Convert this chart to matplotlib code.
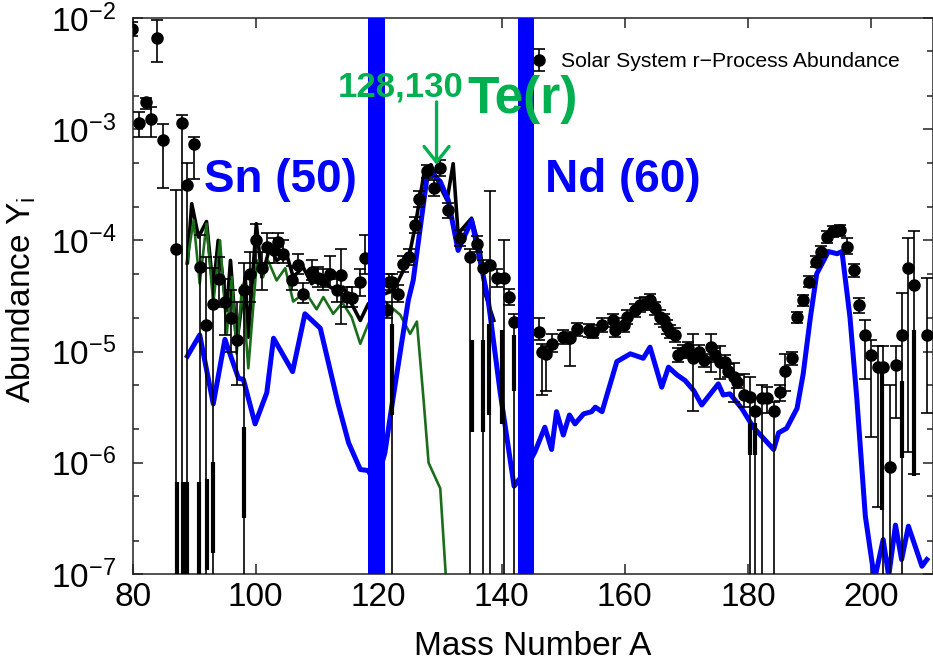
import numpy as np
import matplotlib
matplotlib.use("Agg")
import matplotlib.pyplot as plt
from matplotlib.ticker import LogLocator, LogFormatterMathtext, NullFormatter

# --- data (log10 of abundance) ---
# solar system r-process abundances: mass number, value, lower / upper bound
sol_A = [79.9, 81.0, 82.1, 83.0, 84.0, 85.0, 87.0, 88.0, 88.9, 90.0,
         90.9, 92.0, 93.0, 94.0, 95.0, 96.0, 97.0, 98.1, 99.0, 100.0,
         101.0, 101.8, 102.9, 103.7, 104.5, 105.9, 106.9, 107.7, 109.1, 110.2,
         111.0, 112.0, 113.2, 113.8, 114.8, 115.6, 117.0, 117.8,
         121.3, 121.6, 122.1, 123.2, 124.0, 125.0, 125.9, 126.6, 127.8, 129.0,
         130.0, 131.3, 133.2, 134.8, 135.9, 137.0, 138.1, 139.2, 140.3, 141.1,
         142.0,
         146.0, 146.5, 147.2, 148.1, 150.0, 151.1, 152.2, 154.1, 154.9, 156.3,
         158.1, 158.4, 159.8, 160.3, 161.7, 162.5, 163.3, 164.1, 164.9, 165.8,
         166.3, 166.8, 167.4, 168.2, 168.7, 169.5, 170.3, 171.1, 172.0, 172.8,
         174.0, 174.7, 175.4, 176.3, 176.8, 177.7, 178.2, 179.3, 180.4, 181.2,
         182.3, 183.1, 184.3, 185.3, 186.1, 187.2, 188.0, 189.0, 189.9, 191.1,
         191.9, 192.8, 193.9, 195.0, 196.1, 197.2, 198.0, 199.1, 200.0, 201.1,
         202.0, 203.1, 204.1, 205.1, 206.1, 207.0, 209.1]
sol_Y = [-2.10, -2.94, -2.76, -2.91, -2.18, -3.10, -4.08, -2.94, -3.50, -3.13,
         -4.24, -4.76, -4.57, -4.35, -4.55, -4.70, -4.90, -4.45, -4.30, -4.00,
         -4.25, -4.06, -4.09, -4.01, -4.12, -4.36, -4.22, -4.48, -4.28, -4.34,
         -4.36, -4.30, -4.45, -4.31, -4.51, -4.52, -4.37, -4.16,
         -4.63, -4.37, -4.37, -4.48, -4.21, -4.15, -3.86, -3.63, -3.38, -3.53,
         -3.35, -3.73, -3.98, -4.15, -4.03, -4.25, -4.22, -4.34, -4.34, -4.51,
         -4.73,
         -4.82, -5.00, -5.02, -4.93, -4.87, -4.88, -4.80, -4.81, -4.82, -4.76,
         -4.72, -4.81, -4.76, -4.69, -4.63, -4.58, -4.57, -4.54, -4.61, -4.69,
         -4.72, -4.78, -4.82, -4.85, -5.03, -5.00, -4.97, -5.06, -5.00, -5.08,
         -4.96, -5.03, -5.09, -5.09, -5.17, -5.23, -5.27, -5.39, -5.41, -5.53,
         -5.42, -5.42, -5.53, -5.36, -5.17, -5.06, -4.69, -4.54, -4.37, -4.19,
         -4.10, -3.97, -3.92, -3.91, -4.06, -4.27, -4.58, -4.85, -5.03, -5.14,
         -5.14, -6.04, -5.12, -4.85, -4.25, -4.40, -4.85]
sol_lo = [-2.16, -3.07, -2.82, -3.07, -2.40, -3.53, -8, -8, -8, -3.45,
          -8, -8, -8, -4.60, -4.85, -5.00, -5.30, -8, -4.55, -4.20,
          -4.45, -4.20, -4.20, -4.10, -4.20, -4.45, -4.30, -4.56, -4.36, -4.42,
          -4.45, -4.42, -4.55, -4.75, -4.60, -4.60, -4.50, -4.30,
          -4.70, -4.45, -8, -4.55, -4.28, -4.22, -3.93, -3.70, -3.44, -3.60,
          -3.42, -3.80, -4.05, -8, -4.10, -8, -8, -4.42, -8, -4.58,
          -8,
          -4.90, -5.39, -5.35, -5.00, -4.93, -5.13, -4.86, -4.87, -4.88, -4.82,
          -4.78, -4.87, -4.82, -4.75, -4.69, -4.64, -4.63, -4.60, -4.67, -4.75,
          -4.78, -4.84, -4.88, -4.91, -5.09, -5.06, -5.03, -5.53, -5.06, -5.14,
          -5.18, -5.09, -5.25, -5.15, -5.23, -5.45, -5.33, -5.50, -8, -8,
          -8, -5.55, -8, -5.44, -5.35, -5.12, -4.74, -4.59, -4.42, -4.24,
          -4.15, -4.02, -3.97, -3.96, -4.12, -4.33, -4.65, -5.25, -5.77, -6.40,
          -8, -8, -5.60, -8, -5.90, -6.10, -5.55]
sol_hi = [-2.04, -2.85, -2.72, -2.80, -2.02, -2.95, -3.55, -2.87, -3.30, -3.07,
          -3.95, -4.15, -4.25, -4.15, -4.35, -4.45, -4.55, -4.20, -4.10, -3.85,
          -4.10, -3.93, -3.98, -3.93, -4.00, -4.23, -4.12, -4.38, -4.18, -4.24,
          -4.26, -4.14, -4.35, -4.08, -4.42, -4.42, -4.26, -3.95,
          -4.55, -4.30, -4.30, -4.40, -4.14, -4.08, -3.79, -3.56, -3.32, -3.46,
          -3.28, -3.66, -3.91, -4.08, -3.96, -4.18, -3.56, -4.26, -4.00, -4.44,
          -4.66,
          -4.70, -4.93, -4.95, -4.84, -4.81, -4.82, -4.74, -4.75, -4.76, -4.70,
          -4.66, -4.75, -4.70, -4.63, -4.57, -4.52, -4.51, -4.48, -4.55, -4.63,
          -4.66, -4.72, -4.76, -4.79, -4.97, -4.94, -4.91, -4.84, -4.94, -5.02,
          -4.84, -4.97, -4.95, -5.03, -5.11, -5.10, -5.21, -5.20, -5.23, -5.42,
          -5.30, -5.32, -5.45, -5.30, -5.02, -5.00, -4.64, -4.49, -4.32, -4.14,
          -4.05, -3.92, -3.87, -3.86, -3.98, -4.21, -4.52, -4.72, -4.90, -4.95,
          -4.95, -5.30, -4.95, -4.47, -3.98, -3.92, -4.34]

# heavier overlapping error segments
thick_A = [87.25, 88.1, 88.9, 90.8, 92.1, 93.0, 98.1,
           122.1, 135.1, 137.0, 138.0, 140.0, 142.0,
           180.3, 181.2, 201.8, 205.1, 207.0]
thick_top = [-6.17, -6.17, -6.17, -6.17, -6.15, -5.99, -5.68,
             -4.75, -4.90, -4.90, -4.75, -4.81, -4.85,
             -5.64, -5.64, -5.14, -5.26, -4.81]
thick_bot = [-7.2, -7.2, -7.2, -7.2, -6.96, -6.81, -6.50,
             -5.57, -5.72, -5.72, -5.57, -5.65, -5.35,
             -5.93, -5.93, -6.42, -5.96, -6.12]

# model total (black)
tot_A = [88.9, 89.6, 90.7, 92.0, 93.1, 93.9, 95.3, 95.9, 96.9, 98.3,
         98.8, 100.1, 101.0, 102.3, 103.4, 105.0, 106.1, 107.7, 109.1, 110.5,
         112.1, 113.2, 114.2, 115.3, 117.0, 118.3, 120.0, 121.0, 122.4, 124.8,
         125.9, 127.5, 128.5, 130.0, 131.1, 132.1, 132.9, 135.1, 136.5, 137.3,
         138.7]
tot_Y = [-4.20, -3.67, -3.97, -3.83, -4.45, -4.00, -4.63, -4.18, -4.93, -4.33,
         -4.87, -3.85, -4.33, -4.06, -4.18, -4.12, -4.33, -4.24, -4.39, -4.33,
         -4.42, -4.45, -4.42, -4.54, -4.72, -4.57, -4.50, -4.48, -4.45, -4.18,
         -3.88, -3.35, -3.32, -3.52, -3.64, -3.31, -3.94, -3.80, -4.09, -4.48,
         -4.72]

# weak component (green)
grn_A = [88.8, 89.9, 90.9, 92.0, 93.1, 94.2, 95.3, 96.1, 96.9, 97.8,
         98.8, 100.2, 101.2, 102.0, 103.4, 104.8, 106.1, 107.7, 108.5, 109.9,
         111.0, 112.6, 114.1, 115.6, 117.0, 118.3, 120.0, 121.0, 123.5, 125.1,
         126.2, 127.3, 128.1, 130.0, 131.0]
grn_Y = [-4.21, -3.82, -4.39, -3.85, -4.57, -4.00, -4.84, -4.33, -5.02, -4.40,
         -5.15, -4.18, -4.33, -4.18, -4.36, -4.25, -4.55, -4.48, -4.50, -4.62,
         -4.51, -4.66, -4.56, -4.69, -4.93, -4.75, -4.60, -4.55, -4.67, -4.84,
         -4.73, -5.44, -6.00, -6.23, -7.10]

# main r-process component (blue)
blu_A = [88.9, 90.9, 93.1, 95.0, 97.2, 98.0, 99.9, 101.8, 102.9, 106.0,
         108.0, 110.5, 113.4, 115.1, 117.0, 118.3, 119.5, 121.0, 122.1, 124.8,
         125.6, 128.0, 130.0, 131.3, 132.9, 135.1, 136.7, 137.8, 139.7, 142.0,
         143.5, 145.4, 147.0, 148.1, 148.9, 150.0, 151.0, 151.9, 153.3, 154.6,
         155.2, 156.3, 158.7, 160.9, 163.0, 164.1, 166.0, 167.1, 168.5, 169.8,
         171.2, 172.5, 175.2, 176.0, 177.1, 179.0, 180.9, 184.2, 185.0, 186.3,
         188.0, 189.0, 190.1, 191.2, 193.1, 194.5, 195.3, 196.6, 197.7, 199.1,
         200.6, 202.0, 202.9, 204.0, 205.0, 206.1, 207.2, 208.3, 209.1]
blu_Y = [-5.04, -4.85, -5.47, -4.89, -5.24, -5.25, -5.65, -5.37, -4.88, -5.18,
         -4.66, -4.79, -5.47, -5.82, -6.06, -6.07, -6.20, -5.91, -5.50, -4.54,
         -4.36, -3.37, -3.47, -3.64, -4.09, -3.82, -4.24, -4.54, -5.35, -6.21,
         -6.10, -5.90, -5.68, -5.88, -5.54, -5.75, -5.57, -5.65, -5.56, -5.54,
         -5.50, -5.54, -5.09, -5.02, -5.06, -4.96, -5.32, -5.14, -5.21, -5.26,
         -5.35, -5.48, -5.29, -5.39, -5.38, -5.51, -5.68, -5.88, -5.73, -5.69,
         -5.51, -5.20, -4.72, -4.30, -4.10, -4.12, -4.10, -4.69, -5.41, -6.48,
         -7.05, -6.69, -7.02, -6.56, -6.87, -6.57, -6.75, -6.93, -6.87]

# closed-shell bands (Z = 50 and Z = 60)
band_lo = [118.3, 142.7]
band_hi = [120.95, 145.3]

plt.rcParams['font.family'] = ['Liberation Sans', 'DejaVu Sans']
plt.rcParams['mathtext.fontset'] = 'custom'
plt.rcParams['mathtext.rm'] = 'Liberation Sans'
plt.rcParams['mathtext.it'] = 'Liberation Sans:italic'
plt.rcParams['mathtext.default'] = 'regular'

GREEN_TXT = '#00b050'
GREEN_LN = '#1a6e1a'


def p10(v):
    return 10.0 ** np.asarray(v, dtype=float)


def main():
    fig = plt.figure(figsize=(9.33, 6.63), dpi=100)
    ax = fig.add_axes([0.1422, 0.1342, 0.8578, 0.8387])

    y = p10(sol_Y)
    yerr = [y - p10(sol_lo), p10(sol_hi) - y]

    ax.plot(tot_A, p10(tot_Y), color='black', lw=2.6, zorder=2)
    ax.plot(grn_A, p10(grn_Y), color=GREEN_LN, lw=1.9, zorder=2.2)
    ax.plot(blu_A, p10(blu_Y), color='#0000ff', lw=3.6, zorder=2.5)

    ax.vlines(thick_A, p10(thick_bot), p10(thick_top), color='black',
              lw=3.0, zorder=3)
    eb = ax.errorbar(sol_A, y, yerr=yerr, fmt='o', color='black', ms=8,
                     elinewidth=1.2, capsize=4, capthick=1.2, zorder=3,
                     label='Solar System r\u2212Process Abundance')

    for lo, hi in zip(band_lo, band_hi):
        ax.axvspan(lo, hi, color='#0000ff', lw=0, zorder=4)

    ax.set_yscale('log')
    ax.set_xlim(80, 210.1)
    ax.set_ylim(1e-7, 1e-2)
    ax.set_xticks([80, 100, 120, 140, 160, 180, 200])
    ax.yaxis.set_major_locator(LogLocator(base=10))
    ax.yaxis.set_major_formatter(LogFormatterMathtext())
    ax.yaxis.set_minor_locator(LogLocator(base=10, subs=(2.0, 5.0)))
    ax.yaxis.set_minor_formatter(NullFormatter())
    ax.tick_params(which='both', direction='in', top=True, right=True,
                   color='#222222', width=1.1)
    ax.tick_params(which='major', length=7, labelsize=24)
    ax.tick_params(which='minor', length=4)
    ax.tick_params(axis='y', pad=12)
    ax.tick_params(axis='x', pad=6)
    for s in ax.spines.values():
        s.set_linewidth(1.1)
        s.set_color('#222222')

    ax.set_xlabel('Mass Number A', fontsize=24)
    ax.xaxis.set_label_coords(0.5, -0.102)
    ax.set_ylabel('Abundance Y$_{i}$', fontsize=24)
    ax.yaxis.set_label_coords(-0.118, 0.493)

    # annotations (drawn above the bands)
    ax.text(91.6, p10(-3.565), 'Sn (50)', color='#0000ff', fontsize=33,
            fontweight='bold', va='baseline', zorder=5)
    ax.text(147.0, p10(-3.565), 'Nd (60)', color='#0000ff', fontsize=33,
            fontweight='bold', va='baseline', zorder=5)
    ax.text(113.4, p10(-2.71), '128,130', color=GREEN_TXT, fontsize=25,
            fontweight='bold', va='baseline', zorder=5)
    ax.text(134.4, p10(-2.854), 'Te(r)', color=GREEN_TXT, fontsize=37,
            fontweight='bold', va='baseline', zorder=5)
    ax.annotate('', xy=(129.4, p10(-3.32)), xytext=(129.4, p10(-2.755)),
                arrowprops=dict(arrowstyle='->,head_length=0.45,head_width=0.36',
                                color=GREEN_TXT, lw=2.4, mutation_scale=25,
                                shrinkA=0, shrinkB=0), zorder=5)

    leg = ax.legend(handles=[eb], loc='center left',
                    bbox_to_anchor=(0.494, 0.921), frameon=False,
                    fontsize=15.2, handlelength=1.0, handletextpad=0.55,
                    borderpad=0, borderaxespad=0)
    leg.set_zorder(6)

    fig.savefig('out.png', dpi=100)


if __name__ == '__main__':
    main()
